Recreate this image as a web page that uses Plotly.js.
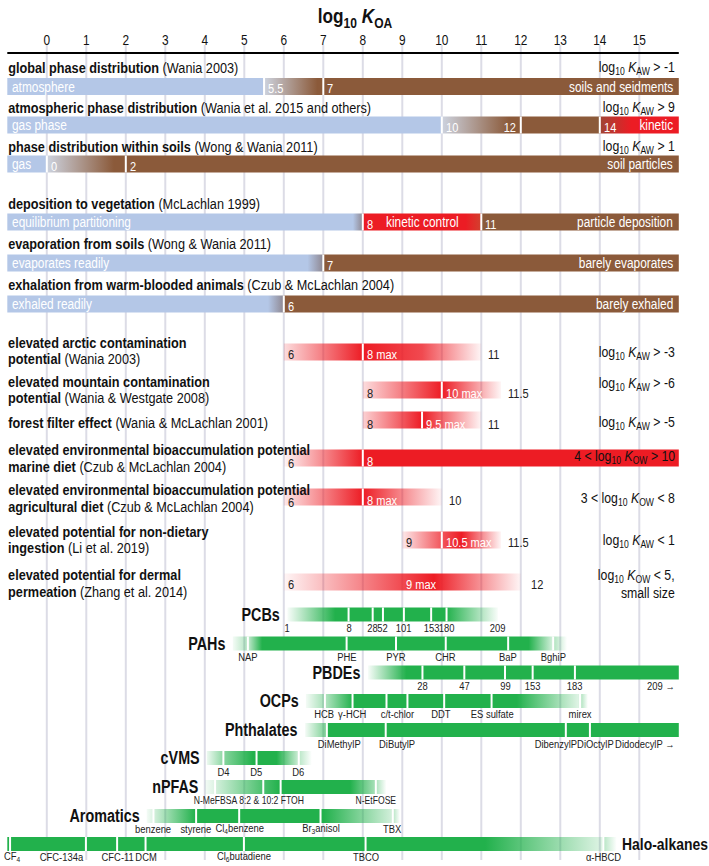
<!DOCTYPE html>
<html><head><meta charset="utf-8">
<script src="https://cdn.plot.ly/plotly-3.0.1.min.js"></script>
<style>html,body{margin:0;padding:0;background:#fff}#chart{width:709px;height:866px}</style>
</head><body><div id="chart"></div>
<script>
// ================= DATA =================
const koaTicks = [0,1,2,3,4,5,6,7,8,9,10,11,12,13,14,15];
const koaMin = -1, koaMax = 16;

// --- process rows: colour stops along log KOA ---
const globalStops  = [-1, 5.5, 5.5, 6.85, 16];
const globalCols   = ['blue','blue','pale','brown','brown'];
const globalDiv    = [5.5, 7];
const atmStops     = [-1, 10, 10, 11.7, 14, 14, 14.8, 16];
const atmCols      = ['blue','blue','pale','brown','brown','rust','red','red'];
const atmDiv       = [10, 12, 14];
const soilStops    = [-1, 0, 0, 1.7, 16];
const soilCols     = ['blue','blue','pale','brown','brown'];
const soilDiv      = [0, 2];
const vegStops     = [-1, 7.75, 8, 8, 10.6, 11, 11, 16];
const vegCols      = ['blue','blue','dusk','red','red','redfade','brown','brown'];
const vegDiv       = [8, 11];
const evapStops    = [-1, 6.6, 7, 7, 16];
const evapCols     = ['blue','blue','dusk','brown','brown'];
const evapDiv      = [7];
const exhStops     = [-1, 5.6, 6, 6, 16];
const exhCols      = ['blue','blue','dusk','brown','brown'];
const exhDiv       = [6];

// --- elevated potential rows: range and intensity profile ---
const arcticX   = [6, 8, 9.5, 11];      const arcticA   = [0.15, 1, 0.8, 0.04];
const mountainX = [8, 10, 11.5];        const mountainA = [0.15, 1, 0.04];
const forestX   = [8, 9.5, 11];         const forestA   = [0.2, 1, 0.04];
const marineX   = [6, 8, 16];           const marineA   = [0.04, 1, 1];
const agriX     = [6, 8, 10];           const agriA     = [0.1, 1, 0.04];
const ingestX   = [9, 10, 10.5, 11.5];  const ingestA   = [0.1, 0.75, 1, 0.04];
const dermalX   = [6, 9.8, 12];         const dermalA   = [0.04, 1, 0.04];

// --- chemical classes ---
const pcbNames = ['1','8','28','52','101','153','180','209'];
const pcbKoa   = [6.09, 7.64, 8.25, 8.51, 9.04, 9.73, 10.12, 11.42];
const pcbDiv   = [7.64, 8.25, 8.51, 9.04, 9.73, 10.12];
const pcbFadeX = [6.09, 7.3, 10.12, 11.42];  const pcbFadeA = [0.03, 1, 1, 0.03];

const pahNames = ['NAP','PHE','PYR','CHR','BaP','BghiP'];
const pahKoa   = [5.09, 7.59, 8.84, 10.1, 11.68, 12.82];
const pahDiv   = [5.09, 7.59, 8.84, 10.1, 11.68, 12.82];
const pahFadeX = [4.71, 5.07, 5.11, 5.45, 12.2, 12.8, 12.84, 13.17];
const pahFadeA = [0.05, 0.35, 0.3, 1, 1, 0.2, 0.35, 0.0];

const pbdeNames = ['28','47','99','153','183','209 →'];
const pbdeKoa   = [9.51, 10.57, 11.6, 12.3, 13.37, 16];
const pbdeDiv   = [9.51, 10.57, 11.6, 12.3, 13.37];
const pbdeFadeX = [8.13, 9.1, 16];  const pbdeFadeA = [0.03, 1, 1];

const ocpNames = ['HCB','γ-HCH','c/t-chlor','DDT','ES sulfate','mirex'];
const ocpKoa   = [7.04, 7.74, 8.87, 9.98, 11.26, 13.5];
const ocpDiv   = [7.04, 7.74, 8.6, 9.13, 10.06, 11.26, 13.5];
const ocpFadeX = [6.56, 7.02, 7.06, 7.74, 11.9, 13.45, 13.55, 13.7];
const ocpFadeA = [0.05, 0.4, 0.35, 1, 1, 0.15, 0.3, 0.0];

const phtNames = ['DiMethylP','DiButylP','DibenzylP','DiOctylP','DidodecylP →'];
const phtKoa   = [7.09, 8.58, 13.14, 13.75, 16];
const phtDiv   = [7.09, 8.58, 13.14, 13.75];
const phtFadeX = [6.54, 7.07, 7.11, 16];  const phtFadeA = [0.05, 0.6, 1, 1];

const cvmsNames = ['D4','D5','D6'];
const cvmsKoa   = [4.47, 5.31, 6.38];
const cvmsDiv   = [4.47, 5.31, 6.38];
const cvmsFadeX = [4.05, 4.45, 4.49, 5.22, 5.82, 6.36, 6.4, 6.71];
const cvmsFadeA = [0.08, 0.5, 0.55, 1, 1, 0.25, 0.3, 0.0];

const pfasNames = ['N-MeFBSA','8:2 &amp; 10:2 FTOH','N-EtFOSE'];
const pfasKoa   = [4.26, 5.7, 8.33];
const pfasDiv   = [4.26, 5.48, 5.92, 8.33];
const pfasFadeX = [4.0, 4.24, 4.28, 5.45, 5.9, 7.68, 8.31, 8.35, 8.6];
const pfasFadeA = [0.05, 0.15, 0.2, 0.8, 1, 1, 0.4, 0.35, 0.0];

const aroNames = ['benzene','styrene','Cl<sub>4</sub>benzene','Br<sub>3</sub>anisol','TBX'];
const aroKoa   = [2.7, 3.78, 4.87, 6.93, 8.76];
const aroDiv   = [2.7, 3.78, 4.87, 6.93, 8.76];
const aroFadeX = [2.53, 2.68, 2.72, 3.76, 7.0, 8.74, 8.78, 8.94];
const aroFadeA = [0.05, 0.15, 0.2, 1, 1, 0.2, 0.3, 0.0];

const haloNames = ['CF<sub>4</sub>','CFC-134a','CFC-11','DCM','Cl<sub>6</sub>butadiene','TBCO','α-HBCD'];
const haloKoa   = [-0.93, 0.99, 1.78, 2.5, 4.99, 8.07, 14.09];
const haloDiv   = [-0.93, 0.99, 1.78, 2.5, 4.99, 8.07, 14.09];
const haloFadeX = [-1, 11.1, 14.05, 14.12, 14.43];
const haloFadeA = [1, 1, 0.15, 0.3, 0.0];

// ================= STYLE / LAYOUT =================
const FONT = '"Liberation Sans",Arial,sans-serif';
const SX = 0.82;   // horizontal condensing of all text (reference uses a condensed face)
const COL = {blue:'#b4c7e7', pale:'#cdd3df', brown:'#8b5a3a', red:'#ec1c24', rust:'#a04535',
             dusk:'#8e8791', redfade:'#d2412f'};
const RED = [237,28,36], GREEN = [34,177,76];
const W = 709, H = 866;
const traces = [], shapes = [], anns = [];

function gradBar(xs, cols, yc, h) {
  const x0 = xs[0], x1 = xs[xs.length-1];
  let prev = -1;
  const cs = xs.map((x,i) => {
    let t = (x - x0) / (x1 - x0);
    if (t <= prev) t = Math.min(1, prev + 1e-4);
    prev = t;
    return [t, cols[i]];
  });
  cs[cs.length-1][0] = 1;
  traces.push({type:'scatter', mode:'lines', x:[x0,x1,x1,x0,x0],
    y:[yc-h/2,yc-h/2,yc+h/2,yc+h/2,yc-h/2], fill:'toself', fillcolor:cols[0],
    fillgradient:{type:'horizontal', start:x0, stop:x1, colorscale:cs},
    line:{width:0, color:'rgba(0,0,0,0)'}, hoverinfo:'skip', showlegend:false});
}
function rgba(c, a){ return 'rgba(' + c[0] + ',' + c[1] + ',' + c[2] + ',' + a + ')'; }
function dividers(vals, yc, h, w) {
  vals.forEach(v => shapes.push({type:'line', xref:'x', yref:'y', x0:v, x1:v,
    y0:yc-h/2, y1:yc+h/2, line:{color:'#ffffff', width:w||2}, layer:'above'}));
}
function txt(text, x, y, o) {
  anns.push(Object.assign({text:text, x:x, y:y, xref:'x', yref:'y', showarrow:false,
    xanchor:'left', yanchor:'middle', font:{family:FONT, size:14, color:'#111'}}, o||{}));
}
function title(text, y) {
  anns.push({text:text, x:6/W, y:y, xref:'paper', yref:'y', showarrow:false,
    xanchor:'left', yanchor:'middle', font:{family:FONT, size:15.5, color:'#111'}});
}
function cond(text, y) {
  anns.push({text:text, x:16, y:y, xshift:-2, xref:'x', yref:'y', showarrow:false,
    xanchor:'right', yanchor:'middle', font:{family:FONT, size:15, color:'#111'}});
}
const WH = {family:FONT, size:14.5, color:'#ffffff'};
const WN = {family:FONT, size:13.5, color:'#ffffff'};
const DK = {family:FONT, size:13.5, color:'#222'};

// gridlines + axis line
koaTicks.forEach(v => shapes.push({type:'line', xref:'x', yref:'y', x0:v, x1:v, y0:45, y1:860,
  line:{color:'#dcdce6', width:2}, layer:'below'}));
shapes.push({type:'line', xref:'x', yref:'y', x0:koaMin, x1:koaMax, y0:53, y1:53,
  line:{color:'#000', width:2}, layer:'above'});

// ---- process rows ----
const BH = 17;
function procRow(stops, cols, divs, yTitle, yBar, ttl) {
  title(ttl, yTitle);
  gradBar(stops, cols.map(k => COL[k]), yBar, BH);
  dividers(divs, yBar, BH, 2);
}
procRow(globalStops, globalCols, globalDiv, 67, 86.5, '<b>global phase distribution</b> (Wania 2003)');
txt('atmosphere', koaMin, 86.5, {xshift:3, font:WH});
txt('5.5', 5.5, 88, {xshift:2, font:WN});
txt('7', 7, 88, {xshift:2, font:WN});
txt('soils and seidments', koaMax, 86.5, {xanchor:'right', xshift:-4, font:WH});
cond('log<sub>10</sub> <i>K</i><sub>AW</sub> &gt; -1', 67);

procRow(atmStops, atmCols, atmDiv, 107, 125, '<b>atmospheric phase distribution</b> (Wania et al. 2015 and others)');
txt('gas phase', koaMin, 125, {xshift:3, font:WH});
txt('10', 10, 127, {xshift:2, font:WN});
txt('12', 12, 127, {xanchor:'right', xshift:-3, font:WN});
txt('14', 14, 127, {xshift:2, font:WN});
txt('kinetic', koaMax, 125, {xanchor:'right', xshift:-4, font:WH});
cond('log<sub>10</sub> <i>K</i><sub>AW</sub> &gt; 9', 107);

procRow(soilStops, soilCols, soilDiv, 146, 164, '<b>phase distribution within soils</b> (Wong &amp; Wania 2011)');
txt('gas', koaMin, 164, {xshift:3, font:WH});
txt('0', 0, 166, {xshift:2, font:WN});
txt('2', 2, 166, {xshift:2, font:WN});
txt('soil particles', koaMax, 164, {xanchor:'right', xshift:-4, font:WH});
cond('log<sub>10</sub> <i>K</i><sub>AW</sub> &gt; 1', 146);

procRow(vegStops, vegCols, vegDiv, 203, 222, '<b>deposition to vegetation</b> (McLachlan 1999)');
txt('equilibrium partitioning', koaMin, 222, {xshift:3, font:WH});
txt('8', 8, 224, {xshift:2, font:WN});
txt('kinetic control', (vegDiv[0]+vegDiv[1])/2, 222, {xanchor:'center', font:WH});
txt('11', 11, 224, {xshift:2, font:WN});
txt('particle deposition', koaMax, 222, {xanchor:'right', xshift:-4, font:WH});

procRow(evapStops, evapCols, evapDiv, 243, 263, '<b>evaporation from soils</b> (Wong &amp; Wania 2011)');
txt('evaporates readily', koaMin, 263, {xshift:3, font:WH});
txt('7', 7, 265, {xshift:2, font:WN});
txt('barely evaporates', koaMax, 263, {xanchor:'right', xshift:-4, font:WH});

procRow(exhStops, exhCols, exhDiv, 284, 304, '<b>exhalation from warm-blooded animals</b> (Czub &amp; McLachlan 2004)');
txt('exhaled readily', koaMin, 304, {xshift:3, font:WH});
txt('6', 6, 306, {xshift:2, font:WN});
txt('barely exhaled', koaMax, 304, {xanchor:'right', xshift:-4, font:WH});

// ---- elevated potential rows ----
function redRow(xs, as, yBar, divs) {
  gradBar(xs, as.map(a => rgba(RED, a)), yBar, BH);
  dividers(divs, yBar, BH, 2);
}
title('<b>elevated arctic contamination</b>', 342); title('<b>potential</b> (Wania 2003)', 358);
redRow(arcticX, arcticA, 352, [8]);
txt('6', 6, 354, {xshift:2, font:DK}); txt('8 max', 8, 354, {xshift:2, font:WN});
txt('11', 11, 354, {xshift:5, font:DK});
cond('log<sub>10</sub> <i>K</i><sub>AW</sub> &gt; -3', 352);

title('<b>elevated mountain contamination</b>', 381); title('<b>potential</b> (Wania &amp; Westgate 2008)', 397);
redRow(mountainX, mountainA, 390, [10]);
txt('8', 8, 393, {xshift:2, font:DK}); txt('10 max', 10, 393, {xshift:2, font:WN});
txt('11.5', 11.5, 393, {xshift:5, font:DK});
cond('log<sub>10</sub> <i>K</i><sub>AW</sub> &gt; -6', 383);

title('<b>forest filter effect</b> (Wania &amp; McLachlan 2001)', 422);
redRow(forestX, forestA, 420, [9.5]);
txt('8', 8, 424, {xshift:2, font:DK}); txt('9.5 max', 9.5, 424, {xshift:2, font:WN});
txt('11', 11, 424, {xshift:5, font:DK});
cond('log<sub>10</sub> <i>K</i><sub>AW</sub> &gt; -5', 422);

title('<b>elevated environmental bioaccumulation potential</b>', 449); title('<b>marine diet</b> (Czub &amp; McLachlan 2004)', 466);
redRow(marineX, marineA, 458, [8]);
txt('6', 6, 463, {xshift:2, font:DK}); txt('8', 8, 461, {xshift:2, font:WN});
cond('4 &lt; log<sub>10</sub> <i>K</i><sub>OW</sub> &gt; 10', 456);

title('<b>elevated environmental bioaccumulation potential</b>', 489); title('<b>agricultural diet</b> (Czub &amp; McLachlan 2004)', 506);
redRow(agriX, agriA, 497, [8]);
txt('6', 6, 502, {xshift:2, font:DK}); txt('8 max', 8, 500, {xshift:2, font:WN});
txt('10', 10, 500, {xshift:5, font:DK});
cond('3 &lt; log<sub>10</sub> <i>K</i><sub>OW</sub> &lt; 8', 498);

title('<b>elevated potential for non-dietary</b>', 531); title('<b>ingestion</b> (Li et al. 2019)', 547);
redRow(ingestX, ingestA, 540, [10]);
txt('9', 9, 542, {xshift:2, font:DK}); txt('10.5 max', 10, 542, {xshift:2, font:WN});
txt('11.5', 11.5, 542, {xshift:5, font:DK});
cond('log<sub>10</sub> <i>K</i><sub>AW</sub> &lt; 1', 540);

title('<b>elevated potential for dermal</b>', 574); title('<b>permeation</b> (Zhang et al. 2014)', 591);
redRow(dermalX, dermalA, 582, []);
txt('6', 6, 584, {xshift:2, font:DK}); txt('9 max', 9, 584, {xshift:2, font:WN});
txt('12', 12, 584, {xshift:8, font:DK});
cond('log<sub>10</sub> <i>K</i><sub>OW</sub> &lt; 5,', 575);
cond('small size', 592);

// ---- chemical classes ----
const GH = 14;
const LBL = {family:FONT, size:11.5, color:'#222'};
const CLS = {family:FONT, size:17.5, color:'#111'};
function cls(name, side, names, koa, divs, fx, fa, yBar, yLbl, lblFont, shifts, anchors) {
  // white bands breaking the gridlines at the label row
  shapes.push({type:'rect', xref:'paper', yref:'y', x0:0, x1:1, y0:yLbl-5, y1:yLbl+5,
    fillcolor:'#fff', line:{width:0}, layer:'below'});
  gradBar(fx, fa.map(a => rgba(GREEN, a)), yBar, GH);
  dividers(divs, yBar, GH, 2);
  names.forEach((n,i) => txt(n, koa[i], yLbl, {xanchor:(anchors && anchors[i]) || 'center',
    xshift:(shifts && shifts[i]) || 0, font:lblFont || LBL}));
  if (side === 'left') txt('<b>' + name + '</b>', fx[0], yBar, {xanchor:'right', xshift:-5, font:CLS});
  else txt('<b>' + name + '</b>', fx[fx.length-1], yBar, {xanchor:'left', xshift:3,
    font:{family:FONT, size:17, color:'#111'}});
}
const C = 'center';
cls('PCBs','left', pcbNames, pcbKoa, pcbDiv, pcbFadeX, pcbFadeA, 614.5, 628);
cls('PAHs','left', pahNames, pahKoa, pahDiv, pahFadeX, pahFadeA, 643.5, 657);
cls('PBDEs','left', pbdeNames, pbdeKoa, pbdeDiv, pbdeFadeX, pbdeFadeA, 672.5, 686, null, [0,0,0,0,0,-2], [C,C,C,C,C,'right']);
cls('OCPs','left', ocpNames, ocpKoa, ocpDiv, ocpFadeX, ocpFadeA, 701, 714);
cls('Phthalates','left', phtNames, phtKoa, phtDiv, phtFadeX, phtFadeA, 730, 744, null, [13,11,-10,6,-2], [C,C,C,C,'right']);
cls('cVMS','left', cvmsNames, cvmsKoa, cvmsDiv, cvmsFadeX, cvmsFadeA, 758, 772);
cls('nPFAS','left', pfasNames, pfasKoa, pfasDiv, pfasFadeX, pfasFadeA, 787, 800, {family:FONT, size:10.5, color:'#222'});
cls('Aromatics','left', aroNames, aroKoa, aroDiv, aroFadeX, aroFadeA, 816, 829);
cls('Halo-alkanes','right', haloNames, haloKoa, haloDiv, haloFadeX, haloFadeA, 844, 857, null,
    [-8,0,0,0,0,0,0], ['left','right',C,C,C,C,C]);

const layout = {
  width:W, height:H, margin:{l:0, r:0, t:0, b:0}, paper_bgcolor:'#fff', plot_bgcolor:'#fff',
  showlegend:false,
  title:{text:'<b>log<sub>10</sub> <i>K</i><sub>OA</sub></b>', x:355/W, xanchor:'center', xref:'container',
         y:1-16/H, yref:'container', yanchor:'middle', font:{family:FONT, size:21, color:'#111'}},
  xaxis:{range:[-46.8/39.5, (W-46.8)/39.5], domain:[0,1], anchor:'free', position:1-48/H, side:'top',
         tickvals:koaTicks, ticks:'', showline:false, showgrid:false, zeroline:false,
         tickfont:{family:FONT, size:14.5, color:'#111'}, fixedrange:true},
  yaxis:{range:[H, 0], domain:[0,1], visible:false, fixedrange:true},
  shapes:shapes, annotations:anns
};

// condense a text element horizontally around its anchor point (in its own local coordinates)
function condense(el, anchor) {
  const bb = el.getBBox();
  const px = anchor === 'left' ? bb.x : anchor === 'right' ? bb.x + bb.width : bb.x + bb.width / 2;
  const prev = el.getAttribute('transform') || '';
  el.setAttribute('transform', prev + ' translate(' + px + ',0) scale(' + SX + ',1) translate(' + (-px) + ',0)');
}
Plotly.newPlot('chart', traces, layout, {staticPlot:true, displayModeBar:false}).then(gd => {
  gd.querySelectorAll('g.annotation').forEach(g => {
    const i = +g.getAttribute('data-index');
    const t = g.querySelector('text.annotation-text');
    if (t) condense(t, anns[i].xanchor);
  });
  gd.querySelectorAll('g.xtick text').forEach(t => condense(t, 'center'));
  const tt = gd.querySelector('.g-gtitle text');
  if (tt) condense(tt, 'center');
});
</script></body></html>
